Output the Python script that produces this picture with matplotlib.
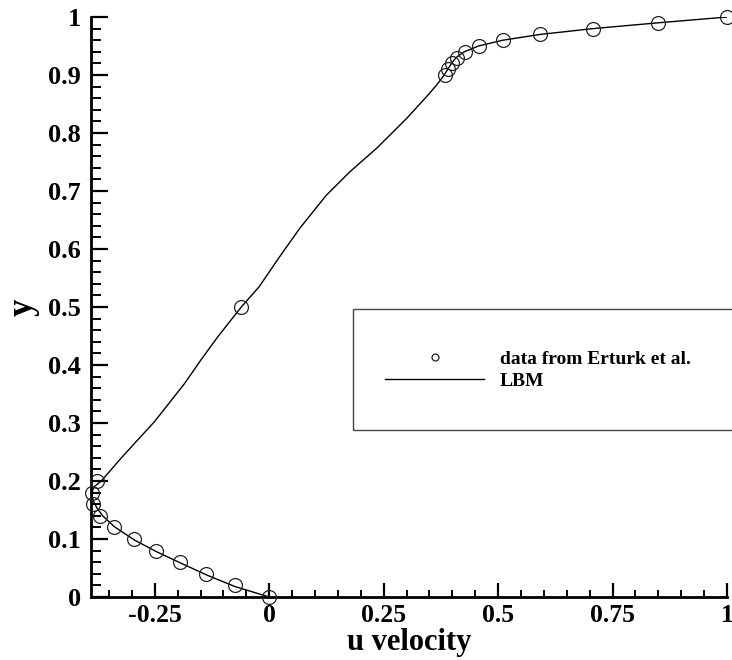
import matplotlib
matplotlib.use("Agg")
import matplotlib.pyplot as plt
from matplotlib.patches import Rectangle
from matplotlib.ticker import MultipleLocator

# ------------------------------------------------------------
# DATA
# ------------------------------------------------------------
# reference points (Erturk et al.), u along vertical centreline
erturk_y = [1.00, 0.99, 0.98, 0.97, 0.96, 0.95, 0.94, 0.93, 0.92, 0.91, 0.90,
            0.50, 0.20, 0.18, 0.16, 0.14, 0.12, 0.10, 0.08, 0.06, 0.04, 0.02, 0.00]
erturk_u = [1.0000, 0.8486, 0.7065, 0.5917, 0.5102, 0.4582, 0.4276, 0.4101,
            0.3993, 0.3913, 0.3838, -0.0620, -0.3756, -0.3869, -0.3854,
            -0.3690, -0.3381, -0.2960, -0.2472, -0.1951, -0.1392, -0.0757, 0.0]

# LBM profile
lbm_y = [0.000, 0.018, 0.038, 0.058, 0.078, 0.098, 0.121, 0.140, 0.153,
         0.165, 0.178, 0.190, 0.199, 0.239, 0.271, 0.302, 0.331, 0.368,
         0.409, 0.449, 0.500, 0.535, 0.587, 0.636, 0.693, 0.733,
         0.774, 0.825, 0.863, 0.883, 0.900, 0.910, 0.920, 0.930, 0.940,
         0.950, 0.960, 0.970, 0.980, 0.990, 1.000]
lbm_u = [0.000, -0.075, -0.137, -0.192, -0.246, -0.294, -0.338, -0.364,
         -0.376, -0.384, -0.388, -0.383, -0.368, -0.324, -0.287, -0.251,
         -0.222, -0.185, -0.149, -0.112, -0.061, -0.022, 0.023,
         0.067, 0.125, 0.176, 0.235, 0.300, 0.344, 0.366, 0.382, 0.390,
         0.398, 0.408, 0.426, 0.457, 0.510, 0.592, 0.707, 0.849, 1.000]

x_ticks = [-0.25, 0, 0.25, 0.5, 0.75, 1]
x_labels = ["-0.25", "0", "0.25", "0.5", "0.75", "1"]
y_ticks = [0, 0.1, 0.2, 0.3, 0.4, 0.5, 0.6, 0.7, 0.8, 0.9, 1]
y_labels = ["0", "0.1", "0.2", "0.3", "0.4", "0.5", "0.6", "0.7", "0.8", "0.9", "1"]

# ------------------------------------------------------------
# STYLE
# ------------------------------------------------------------
plt.rcParams["font.family"] = ["Liberation Serif", "DejaVu Serif"]
plt.rcParams["font.weight"] = "bold"
plt.rcParams["axes.unicode_minus"] = False

fig = plt.figure(figsize=(7.32, 6.6), dpi=100)
ax = fig.add_axes([0.1239, 0.0955, 0.9932 - 0.1239, 0.9742 - 0.0955])

ax.plot(lbm_u, lbm_y, color="black", lw=1.0, label="LBM", zorder=3)
ax.plot(erturk_u, erturk_y, ls="none", marker="o", ms=10, mfc="none",
        mec="#222222", mew=0.9, clip_on=False, zorder=4,
        label="data from Erturk et al.")

ax.set_xlim(-0.39, 1.0)
ax.set_ylim(0, 1.0)

for side in ["top", "right"]:
    ax.spines[side].set_visible(False)
for side in ["left", "bottom"]:
    ax.spines[side].set_linewidth(2.0)

ax.set_xticks(x_ticks)
ax.set_xticklabels(x_labels)
ax.set_yticks(y_ticks)
ax.set_yticklabels(y_labels)
ax.xaxis.set_minor_locator(MultipleLocator(0.05))
ax.yaxis.set_minor_locator(MultipleLocator(0.02))

ax.tick_params(axis="x", which="major", direction="in", length=10, width=1.6,
               labelsize=18.5, pad=5)
ax.tick_params(axis="x", which="minor", direction="in", length=5, width=1.4)
ax.tick_params(axis="y", which="major", direction="in", length=12, width=1.6,
               labelsize=19, pad=7)
ax.tick_params(axis="y", which="minor", direction="in", length=7, width=1.4)

ax.set_xlabel("u velocity", fontsize=22, fontweight="bold", labelpad=0.5)
ax.set_ylabel("y", fontsize=25, fontweight="bold", labelpad=6)

# legend box runs off the right edge like the original
fig.patches.append(Rectangle((353 / 732, (660 - 430) / 660), 400 / 732, 121 / 660,
                             transform=fig.transFigure, fill=False,
                             edgecolor="#444444", lw=1.0))

handles, labels = ax.get_legend_handles_labels()
ax.legend(handles[::-1], labels[::-1], loc="upper left",
          bbox_to_anchor=(385 / 732, (660 - 350) / 660),
          bbox_transform=fig.transFigure, frameon=False, fontsize=14,
          handlelength=5.1, handletextpad=0.8, labelspacing=0.25,
          borderpad=0, borderaxespad=0, markerscale=0.5, numpoints=1)

plt.savefig("out.png", dpi=100)
